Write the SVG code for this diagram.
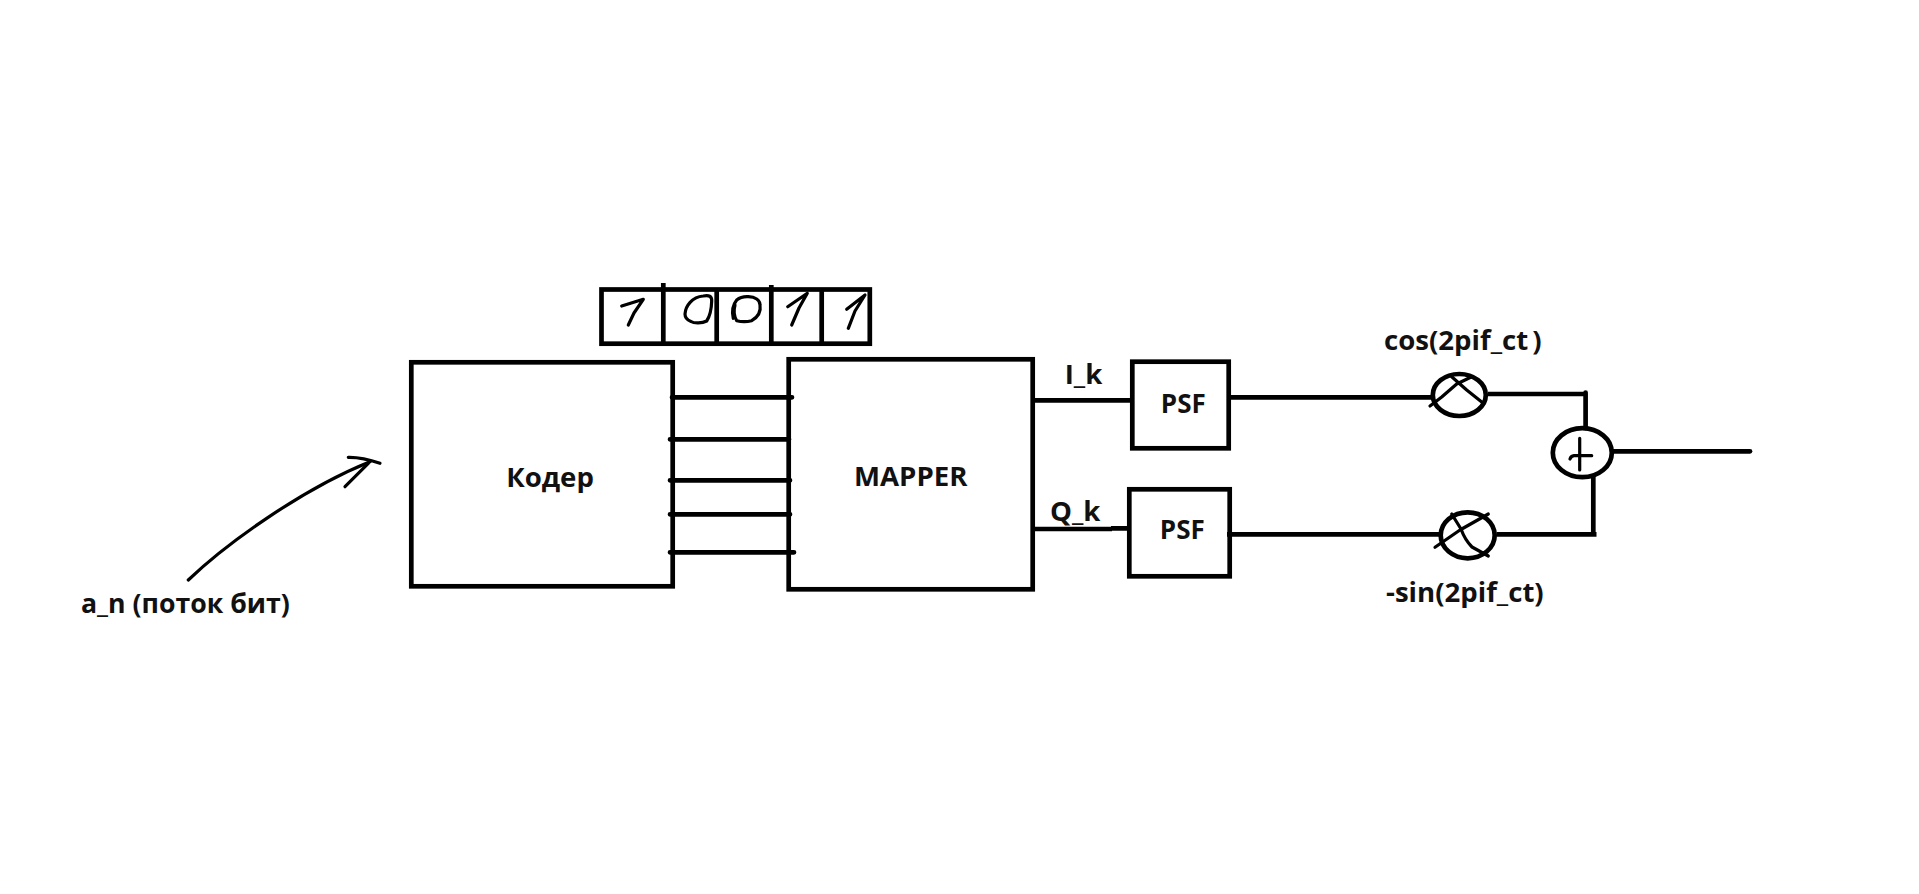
<svg xmlns="http://www.w3.org/2000/svg" width="1919" height="894" viewBox="0 0 1919 894">
<style>
.b{fill:none;stroke:#000;stroke-width:4.7;stroke-linecap:butt}
.w{fill:none;stroke:#000;stroke-width:4.7;stroke-linecap:round;stroke-linejoin:round}
.p{fill:none;stroke:#000;stroke-width:3.2;stroke-linecap:round;stroke-linejoin:round}
.c{fill:none;stroke:#000;stroke-width:4.7}
text{font-family:"Open Sans","Noto Sans","Liberation Sans",sans-serif;font-weight:700;fill:#111;font-size:27.6px}
.s{font-size:26px}
.a{font-size:26.7px}
</style>
<rect width="1919" height="894" fill="#fff"/>
<g id="connectors">
<path class="w" d="M672 397.3H792M670 439.3H789M670 480.3H790M670 514.3H790M670 552.3H794"/>
<path class="b" d="M1033 400.3H1131M1033 529H1112M1111 528.3H1129"/>
<path class="b" d="M1229 397.3H1432M1227 534.3H1441"/>
<path class="b" d="M1488 394H1586M1496.5 534.3H1596.5"/>
<path class="w" d="M1585.6 392.7V428"/>
<path class="b" d="M1593.3 476V536"/>
<path class="w" d="M1613 451.3H1750"/>
<path class="p" d="M188.3 580C225 545 300 490 370 461.7"/>
<path class="p" d="M348.3 457.3Q362 457 380 463.3M345 486.7L368.3 463.3"/>
</g>
<g id="node-bits">
<rect class="c" x="601.5" y="289.5" width="268.3" height="54.2"/>
<path class="b" d="M663.3 283V344M716.7 289V344M771.3 285V344M821.7 289V344"/>
<path class="p" d="M621.7 306L643.3 299.3L634 313L628.3 325"/>
<path class="p" d="M685 314C685.5 306 692 297 703.3 296C709 295 712 296 711.7 301C711.5 308 710 316 706.7 321C702 323.5 694 323.5 691 321.5C687 320 685 318 685 314Z"/>
<path class="p" d="M733.3 318.3C732 313 732 306 736.7 300C741 296.5 745 296.5 748.3 296.7C755 297 760 300 760 305C761 311 758 317 751.7 320.7C746 322 740 321.5 736.7 320.7C734 316 733 312 735 305"/>
<path class="p" d="M787.7 306.7L807.3 293.3L799 308L791.7 325"/>
<path class="p" d="M846.7 309.3L865 295L855 311L848.3 328.3"/>
</g>
<g id="node-coder">
<rect class="c" x="411.3" y="362.3" width="261.4" height="224"/>
<text x="550" y="487.3" text-anchor="middle">Кодер</text>
</g>
<g id="node-mapper">
<rect class="c" x="788.7" y="359.3" width="244" height="230"/>
<text x="910.7" y="486" text-anchor="middle">MAPPER</text>
</g>
<g id="node-psf1">
<rect class="c" x="1132.3" y="361.7" width="96.4" height="86.6"/>
<text class="s" x="1183.3" y="412.7" text-anchor="middle">PSF</text>
</g>
<g id="node-psf2">
<rect class="c" x="1129.3" y="489.3" width="100.4" height="87"/>
<text class="s" x="1182.3" y="539.3" text-anchor="middle">PSF</text>
</g>
<g id="node-mult1">
<ellipse class="c" cx="1459.3" cy="395" rx="26.5" ry="21"/>
<path class="p" d="M1430 406L1441.7 397L1456.7 384L1471.7 376.7M1451.7 376.7L1466.7 390L1483.3 403.3"/>
</g>
<g id="node-mult2">
<ellipse class="c" cx="1467.7" cy="535.3" rx="27" ry="23"/>
<path class="p" d="M1435 547.3L1460 530L1488.3 514M1451.7 514L1461 529Q1465 540 1472 547L1488.3 556"/>
</g>
<g id="node-sum">
<ellipse class="c" cx="1582.3" cy="452.7" rx="29.5" ry="24.5"/>
<path class="p" d="M1570 459Q1571 456 1574 455.7H1591.7M1579.7 438.3V470"/>
</g>
<g id="labels">
<text class="a" x="81" y="613.3">a_n (поток бит)</text>
<text x="1064.7" y="384">I_k</text>
<text x="1050" y="520.7">Q_k</text>
<text x="1384" y="349.7">cos(2pif_ct<tspan dx="4">)</tspan></text>
<text x="1386" y="601.5">-sin(2pif_ct)</text>
</g>
</svg>
